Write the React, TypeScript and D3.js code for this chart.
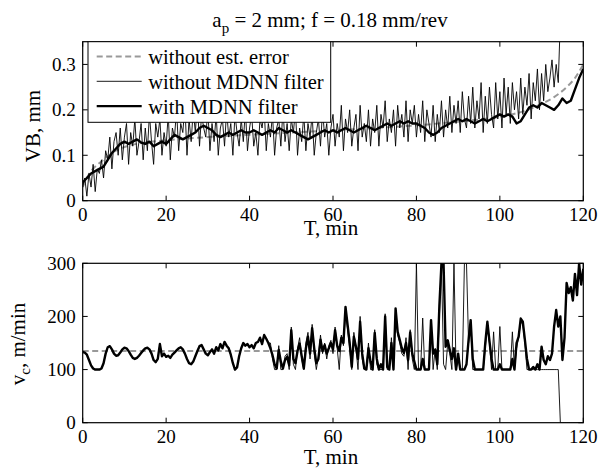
import React from 'react';
import * as d3 from 'd3';

// ---------- data ----------
const STEP = 0.5; // sampling step (min) of the step-sampled series
const timeTicks = [0, 20, 40, 60, 80, 100, 120];
const vbTicks = [0, 0.1, 0.2, 0.3];
const vcTicks = [0, 100, 200, 300];

// reference wear curve (without est. error)
const vbRefT = [0, 1, 2, 3, 5, 7, 10, 15, 20, 30, 40, 50, 60, 70, 80, 90, 100, 105, 110, 113, 116, 118, 120];
const vbRefV = [0.03, 0.05, 0.065, 0.075, 0.09, 0.105, 0.118, 0.128, 0.133, 0.14, 0.145, 0.15, 0.155, 0.16, 0.166, 0.174, 0.185, 0.195, 0.213, 0.228, 0.25, 0.27, 0.3];

// VB without MDNN filter (every 0.5 min from 0)
const vbRaw = [
  0.03, 0.05, 0.01, 0.06, 0.03, 0.08, 0.02, 0.07, 0.06, 0.09,
  0.05, 0.11, 0.09, 0.14, 0.07, 0.13, 0.15, 0.10, 0.16, 0.09,
  0.14, 0.17, 0.08, 0.15, 0.12, 0.18, 0.10, 0.13, 0.17, 0.09,
  0.16, 0.11, 0.19, 0.13, 0.08, 0.17, 0.14, 0.18, 0.10, 0.15,
  0.12, 0.19, 0.09, 0.16, 0.14, 0.20, 0.11, 0.17, 0.15, 0.21,
  0.10, 0.18, 0.13, 0.20, 0.15, 0.22, 0.12, 0.19, 0.16, 0.14,
  0.20, 0.11, 0.17, 0.13, 0.19, 0.10, 0.16, 0.18, 0.12, 0.20,
  0.14, 0.17, 0.10, 0.19, 0.15, 0.12, 0.18, 0.13, 0.20, 0.11,
  0.16, 0.19, 0.12, 0.15, 0.10, 0.18, 0.16, 0.20, 0.11, 0.17,
  0.14, 0.19, 0.10, 0.16, 0.18, 0.12, 0.20, 0.13, 0.17, 0.11,
  0.18, 0.15, 0.20, 0.10, 0.16, 0.13, 0.19, 0.11, 0.17, 0.14,
  0.19, 0.10, 0.15, 0.18, 0.12, 0.20, 0.14, 0.17, 0.10, 0.16,
  0.19, 0.12, 0.17, 0.14, 0.21, 0.11, 0.18, 0.15, 0.20, 0.12,
  0.16, 0.19, 0.11, 0.21, 0.14, 0.17, 0.13, 0.20, 0.12, 0.18,
  0.15, 0.21, 0.12, 0.19, 0.16, 0.22, 0.13, 0.18, 0.15, 0.20,
  0.12, 0.21, 0.16, 0.19, 0.14, 0.22, 0.13, 0.20, 0.17, 0.21,
  0.14, 0.19, 0.15, 0.22, 0.13, 0.20, 0.17, 0.14, 0.21, 0.13,
  0.19, 0.15, 0.22, 0.14, 0.20, 0.16, 0.23, 0.15, 0.21, 0.17,
  0.22, 0.15, 0.24, 0.18, 0.16, 0.23, 0.17, 0.25, 0.16, 0.22,
  0.18, 0.26, 0.15, 0.23, 0.17, 0.25, 0.19, 0.16, 0.26, 0.18,
  0.24, 0.16, 0.27, 0.19, 0.25, 0.17, 0.26, 0.20, 0.24, 0.18,
  0.27, 0.19, 0.25, 0.21, 0.28, 0.18, 0.26, 0.22, 0.29, 0.20,
  0.28, 0.22, 0.30, 0.24, 0.27, 0.31, 0.25, 0.30, 0.26, 0.40,
];

// VB with MDNN filter (every 1 min from 0)
const vbFilt = [
  0.04, 0.05, 0.06, 0.065, 0.07, 0.075, 0.09, 0.105, 0.115, 0.125,
  0.13, 0.125, 0.13, 0.135, 0.128, 0.125, 0.13, 0.12, 0.125, 0.13,
  0.125, 0.135, 0.145, 0.14, 0.135, 0.14, 0.145, 0.15, 0.16, 0.165,
  0.16, 0.155, 0.145, 0.14, 0.145, 0.15, 0.145, 0.15, 0.155, 0.15,
  0.15, 0.155, 0.15, 0.145, 0.15, 0.155, 0.15, 0.16, 0.155, 0.15,
  0.155, 0.15, 0.145, 0.14, 0.135, 0.14, 0.145, 0.15, 0.155, 0.15,
  0.155, 0.15, 0.155, 0.16, 0.155, 0.15, 0.155, 0.16, 0.165, 0.16,
  0.155, 0.16, 0.165, 0.17, 0.165, 0.17, 0.175, 0.17, 0.175, 0.17,
  0.17, 0.165, 0.16, 0.15, 0.145, 0.15, 0.16, 0.165, 0.17, 0.175,
  0.18, 0.175, 0.18, 0.175, 0.17, 0.175, 0.18, 0.175, 0.18, 0.185,
  0.19, 0.185, 0.19, 0.185, 0.17, 0.175, 0.19, 0.205, 0.21, 0.205,
  0.215, 0.21, 0.205, 0.2, 0.21, 0.225, 0.215, 0.22, 0.245, 0.27,
  0.29,
];

const vcRef = 135;

// vc with MDNN filter (every 0.5 min from 0)
const vcFilt = [
  133, 132, 128, 118, 108, 102, 100, 100, 100, 102,
  112, 130, 142, 144, 138, 130, 126, 127, 132, 138,
  141, 140, 135, 128, 122, 120, 122, 126, 131, 136,
  140, 141, 138, 130, 118, 114, 120, 148, 125, 130,
  124, 126, 122, 128, 132, 136, 140, 142, 138, 130,
  120, 112, 110, 115, 125, 135, 144, 146, 138, 130,
  127, 133, 138, 130, 142, 136, 148, 140, 152, 145,
  140, 128, 112, 100, 104, 125, 140, 150, 145, 148,
  142, 146, 140, 150, 152, 160, 148, 165, 158, 150,
  140, 127, 110, 102, 137, 115, 102, 118, 124, 108,
  174, 120, 112, 135, 149, 125, 102, 140, 162, 130,
  178, 140, 112, 120, 156, 135, 146, 130, 140, 150,
  138, 174, 145, 135, 160, 150, 218, 184, 150, 105,
  162, 143, 120, 190, 130, 102, 100, 140, 115, 100,
  169, 120, 100, 110, 100, 200, 105, 100, 150, 100,
  215, 171, 156, 140, 131, 150, 118, 170, 130, 115,
  100, 100, 100, 120, 100, 100, 100, 193, 130, 137,
  110, 220, 300, 300, 143, 155, 137, 120, 140, 100,
  130, 100, 100, 100, 110, 156, 193, 120, 100, 100,
  100, 100, 100, 150, 190, 154, 120, 100, 100, 100,
  110, 100, 100, 100, 100, 100, 120, 100, 150, 162,
  196, 190, 156, 120, 100, 100, 105, 100, 110, 100,
  143, 118, 110, 125, 118, 130, 181, 212, 181, 200,
  118, 160, 263, 244, 255, 230, 280, 240, 300, 260,
  290,
];

// vc without MDNN filter: identical to the filtered one up to 44.5 min, then (every 0.5 min from 45)
const vcRawLate = [
  150, 120, 100, 100, 145, 100, 100, 125, 130, 100,
  180, 110, 100, 140, 160, 120, 100, 150, 170, 120,
  185, 130, 100, 125, 165, 130, 150, 120, 145, 155,
  130, 180, 140, 100, 165, 145, 210, 175, 140, 100,
  170, 140, 100, 200, 120, 100, 100, 150, 100, 100,
  175, 110, 100, 100, 100, 205, 100, 100, 160, 100,
  210, 165, 150, 130, 125, 160, 100, 175, 120, 100,
  300, 100, 100, 197, 100, 100, 100, 190, 100, 140,
  100, 200, 300, 110, 100, 150, 130, 100, 300, 100,
  120, 100, 100, 300, 300, 150, 185, 100, 100, 100,
  100, 100, 100, 140, 180, 150, 100, 171, 100, 100,
  181, 100, 100, 100, 100, 100, 171, 100, 140, 160,
  190, 185, 150, 100, 100, 100, 100, 100, 100, 100,
  100, 100, 100, 100, 100, 100, 100, 100, 100, 0,
  0, 0, 0, 0, 0, 0, 0, 0, 0, 0,
  0,
];
const vcRaw = [...vcFilt.slice(0, 90), ...vcRawLate];

// ---------- layout ----------
const W = 607, H = 473;
const X0 = 82.7, X1 = 583.3;
const TOP = { y0: 41.7, y1: 200.7 };
const BOT = { y0: 263.3, y1: 422.7 };
const FONT = '"Liberation Serif", "Times New Roman", serif';
const FS_TICK = 19;
const FS_LEG = 20.5;
const FS_TITLE = 21;
const FS_LAB = 21;
const TICK = 5;
const GREY = '#999999';

type Pt = [number, number];

function Axes({ y, yTicks, fmt }: { y: d3.ScaleLinear<number, number>; yTicks: number[]; fmt: (v: number) => string }) {
  const x = d3.scaleLinear().domain([0, 120]).range([X0, X1]);
  const [yb, yt] = y.range();
  return (
    <g>
      <rect x={X0} y={yt} width={X1 - X0} height={yb - yt} fill="none" stroke="#000" strokeWidth={1.2} />
      {timeTicks.map((t) => (
        <g key={'x' + t}>
          <line x1={x(t)} x2={x(t)} y1={yb} y2={yb - TICK} stroke="#000" strokeWidth={1} />
          <line x1={x(t)} x2={x(t)} y1={yt} y2={yt + TICK} stroke="#000" strokeWidth={1} />
          <text x={x(t)} y={yb + 20.5} textAnchor="middle" fontFamily={FONT} fontSize={FS_TICK}>{t}</text>
        </g>
      ))}
      {yTicks.map((v) => (
        <g key={'y' + v}>
          <line x1={X0} x2={X0 + TICK} y1={y(v)} y2={y(v)} stroke="#000" strokeWidth={1} />
          <line x1={X1} x2={X1 - TICK} y1={y(v)} y2={y(v)} stroke="#000" strokeWidth={1} />
          <text x={X0 - 7} y={y(v)} dy="0.35em" textAnchor="end" fontFamily={FONT} fontSize={FS_TICK}>{fmt(v)}</text>
        </g>
      ))}
    </g>
  );
}

export default function App() {
  const x = d3.scaleLinear().domain([0, 120]).range([X0, X1]);
  const yTop = d3.scaleLinear().domain([0, 0.35]).range([TOP.y1, TOP.y0]);
  const yBot = d3.scaleLinear().domain([0, 300]).range([BOT.y1, BOT.y0]);

  const lineTop = d3.line<Pt>().x((d) => x(d[0])).y((d) => yTop(d[1]));
  const lineTopSmooth = d3.line<Pt>().x((d) => x(d[0])).y((d) => yTop(d[1])).curve(d3.curveMonotoneX);
  const lineBot = d3.line<Pt>().x((d) => x(d[0])).y((d) => yBot(d[1]));

  const refPts: Pt[] = vbRefT.map((t, i) => [t, vbRefV[i]]);
  const rawPts: Pt[] = vbRaw.map((v, i) => [i * STEP, v]);
  const filtPts: Pt[] = vbFilt.map((v, i) => [i, v]);
  const vcRefPts: Pt[] = [[0, vcRef], [120, vcRef]];
  const vcRawPts: Pt[] = vcRaw.map((v, i) => [i * STEP, v]);
  const vcFiltPts: Pt[] = vcFilt.map((v, i) => [i * STEP, v]);

  const fmtTop = (v: number) => (v === 0 ? '0' : String(v));
  const fmtBot = (v: number) => String(v);

  const legendItems = [
    { label: 'without est. error', stroke: GREY, w: 2, dash: '6,3.5' },
    { label: 'without MDNN filter', stroke: '#000', w: 0.9, dash: undefined },
    { label: 'with MDNN filter', stroke: '#000', w: 2.4, dash: undefined },
  ];

  return (
    <svg width={W} height={H} style={{ position: 'absolute', left: 0, top: 0, background: '#fff' }}>
      <defs>
        <clipPath id="clipTop"><rect x={X0} y={TOP.y0} width={X1 - X0} height={TOP.y1 - TOP.y0} /></clipPath>
        <clipPath id="clipBot"><rect x={X0} y={BOT.y0} width={X1 - X0} height={BOT.y1 - BOT.y0} /></clipPath>
      </defs>
      <rect x={0} y={0} width={W} height={H} fill="#fff" />

      {/* title */}
      <text x={330} y={27} textAnchor="middle" fontFamily={FONT} fontSize={FS_TITLE}>
        <tspan>a</tspan>
        <tspan dy={6} fontSize={15}>p</tspan>
        <tspan dy={-6}> = 2 mm; f = 0.18 mm/rev</tspan>
      </text>

      {/* top plot */}
      <g clipPath="url(#clipTop)">
        <path d={lineTopSmooth(refPts) || ''} fill="none" stroke={GREY} strokeWidth={2} strokeDasharray="6,3.5" />
        <path d={lineTop(rawPts) || ''} fill="none" stroke="#000" strokeWidth={0.9} strokeLinejoin="round" />
        <path d={lineTop(filtPts) || ''} fill="none" stroke="#000" strokeWidth={2.4} strokeLinejoin="round" />
      </g>
      <Axes y={yTop} yTicks={vbTicks} fmt={fmtTop} />

      {/* legend */}
      <g>
        <rect x={88} y={TOP.y0} width={242.7} height={80.6} fill="#fff" stroke="#000" strokeWidth={1} />
        {legendItems.map((it, i) => {
          const ly = 56.5 + i * 24.8;
          return (
            <g key={it.label}>
              <line x1={96.7} x2={141.7} y1={ly} y2={ly} stroke={it.stroke} strokeWidth={it.w} strokeDasharray={it.dash} />
              <text x={148.3} y={ly + 7.5} fontFamily={FONT} fontSize={FS_LEG}>{it.label}</text>
            </g>
          );
        })}
      </g>

      <text x={331} y={235} textAnchor="middle" fontFamily={FONT} fontSize={FS_LAB}>T, min</text>
      <text transform={`translate(40,126) rotate(-90)`} textAnchor="middle" fontFamily={FONT} fontSize={FS_LAB}>VB, mm</text>

      {/* bottom plot */}
      <g clipPath="url(#clipBot)">
        <path d={lineBot(vcRefPts) || ''} fill="none" stroke={GREY} strokeWidth={2} strokeDasharray="6,3.5" />
        <path d={lineBot(vcRawPts) || ''} fill="none" stroke="#000" strokeWidth={0.9} strokeLinejoin="round" />
        <path d={lineBot(vcFiltPts) || ''} fill="none" stroke="#000" strokeWidth={2.4} strokeLinejoin="round" />
      </g>
      <Axes y={yBot} yTicks={vcTicks} fmt={fmtBot} />

      <text x={331} y={464} textAnchor="middle" fontFamily={FONT} fontSize={FS_LAB}>T, min</text>
      <text transform={`translate(25,344) rotate(-90)`} textAnchor="middle" fontFamily={FONT} fontSize={FS_LAB}>
        <tspan>v</tspan>
        <tspan dy={5} fontSize={15}>c</tspan>
        <tspan dy={-5}>, m/min</tspan>
      </text>
    </svg>
  );
}
